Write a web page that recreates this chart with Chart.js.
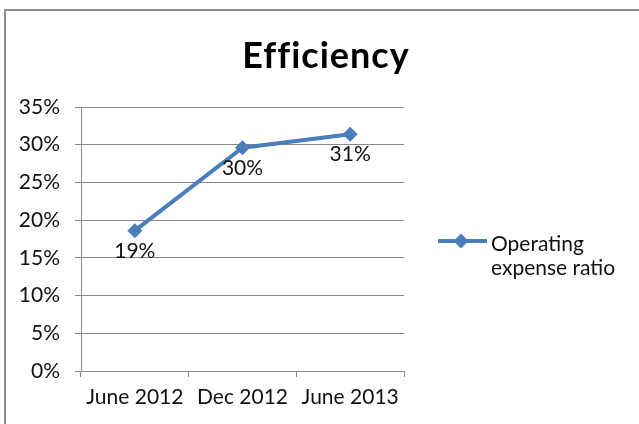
<!DOCTYPE html>
<html>
<head>
<meta charset="utf-8">
<script src="https://cdn.jsdelivr.net/npm/chart.js@4.4.1/dist/chart.umd.min.js"></script>
<style>
  html, body { margin: 0; padding: 0; background: #fff; overflow: hidden; }
  #wrap { position: relative; width: 639px; height: 424px; }
  #frame { position: absolute; left: 4px; top: 9px; width: 700px; height: 500px; border: 2px solid #8c8c8c; box-sizing: border-box; }
  canvas { position: absolute; left: 0; top: 0; }
</style>
</head>
<body>
<div id="wrap">
  <div id="frame"></div>
  <canvas id="effChart" width="639" height="424"></canvas>
</div>
<script>
const chartTitle = 'Efficiency';
const periods = ['June 2012', 'Dec 2012', 'June 2013'];
const expenseRatio = [18.6, 29.6, 31.4];
const seriesName = ['Operating', 'expense ratio'];
const yTicks = [0, 5, 10, 15, 20, 25, 30, 35];

const blue = '#4A7EBB';
const gridGray = '#888888';
const fontFamily = 'Lato, "Open Sans", sans-serif';

// labels under each point
const pointLabels = {
  id: 'pointLabels',
  afterDatasetsDraw(chart) {
    const ctx = chart.ctx;
    const meta = chart.getDatasetMeta(0);
    ctx.save();
    ctx.font = '21px ' + fontFamily;
    ctx.fillStyle = '#111';
    ctx.textAlign = 'center';
    ctx.textBaseline = 'top';
    meta.data.forEach((pt, i) => {
      ctx.fillText(Math.round(expenseRatio[i]) + '%', pt.x, pt.y + 10);
    });
    ctx.restore();
  }
};

// title and side legend
const decorations = {
  id: 'decorations',
  afterDraw(chart) {
    const ctx = chart.ctx;
    ctx.save();
    ctx.fillStyle = '#000';
    ctx.font = 'bold 36px ' + fontFamily;
    ctx.letterSpacing = '1px'; // also stops the ffi ligature
    ctx.textAlign = 'center';
    ctx.textBaseline = 'alphabetic';
    ctx.fillText(chartTitle, 326, 68);
    ctx.letterSpacing = '0px';

    // legend line + diamond
    ctx.strokeStyle = blue;
    ctx.lineWidth = 4;
    ctx.beginPath();
    ctx.moveTo(438, 241);
    ctx.lineTo(487, 241);
    ctx.stroke();
    ctx.fillStyle = blue;
    ctx.beginPath();
    ctx.moveTo(461, 233.5);
    ctx.lineTo(468.5, 241);
    ctx.lineTo(461, 248.5);
    ctx.lineTo(453.5, 241);
    ctx.closePath();
    ctx.fill();

    ctx.fillStyle = '#111';
    ctx.font = '21px ' + fontFamily;
    ctx.textAlign = 'left';
    ctx.fillText(seriesName[0], 491, 251);
    ctx.fillText(seriesName[1], 491, 275);
    ctx.restore();
  }
};

new Chart(document.getElementById('effChart').getContext('2d'), {
  type: 'line',
  data: {
    labels: periods,
    datasets: [{
      label: seriesName.join(' '),
      data: expenseRatio,
      borderColor: blue,
      backgroundColor: blue,
      borderWidth: 4,
      pointStyle: 'rectRot',
      pointRadius: 7.5,
      pointHoverRadius: 7.5,
      pointBorderWidth: 0,
      pointBackgroundColor: blue,
      tension: 0
    }]
  },
  options: {
    responsive: false,
    animation: false,
    layout: { padding: { left: 0, right: 235, top: 107, bottom: 0 } },
    plugins: {
      legend: { display: false },
      title: { display: false },
      tooltip: { enabled: false }
    },
    scales: {
      x: {
        offset: true,
        grid: { offset: true, drawOnChartArea: false, drawTicks: true, tickLength: 6, color: gridGray },
        border: { display: true, color: gridGray },
        ticks: { color: '#111', font: { family: fontFamily, size: 21 }, padding: 8, maxRotation: 0 },
        afterFit(scale) { scale.height = 53; }
      },
      y: {
        min: 0,
        max: 35,
        afterBuildTicks(scale) { scale.ticks = yTicks.map(v => ({ value: v })); },
        grid: { color: gridGray, drawTicks: true, tickLength: 6 },
        border: { display: true, color: gridGray },
        ticks: {
          color: '#111',
          font: { family: fontFamily, size: 21 },
          padding: 15,
          callback: v => v + '%'
        },
        afterFit(scale) { scale.width = 81; }
      }
    }
  },
  plugins: [pointLabels, decorations]
});
</script>
</body>
</html>
